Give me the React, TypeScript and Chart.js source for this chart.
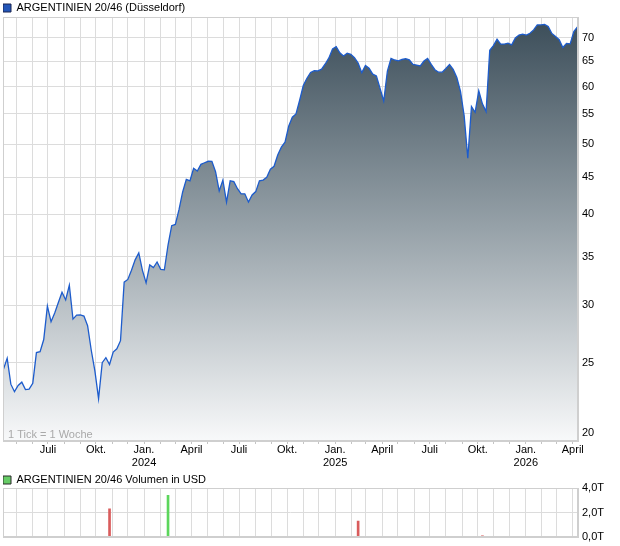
import React, { useEffect, useRef } from "react";
import { Chart, registerables } from "chart.js";

Chart.register(...registerables);

const FONT = '"Liberation Sans", Arial, Helvetica, sans-serif';
Chart.defaults.font.family = FONT;

// ---- data ----
const seriesTitle = "ARGENTINIEN 20/46 (Düsseldorf)";
const volumeTitle = "ARGENTINIEN 20/46 Volumen in USD";
const noteText = "1 Tick = 1 Woche";

const firstWeek = "2023-04-07"; // weekly closes
const axisStart = "2023-04-06";
const axisEnd = "2026-04-11";

const prices = [
  24.5, 25.35, 23.35, 22.8, 23.25, 23.5, 22.95, 22.98, 23.42, 25.81,
  25.89, 26.9, 29.9, 28.47, 29.27, 30.25, 31.25, 30.5, 31.95, 28.7,
  29.07, 29.08, 28.98, 28.1, 26.0, 24.33, 22.3, 25.0, 25.4, 24.85,
  25.85, 26.12, 26.8, 32.27, 32.55, 33.5, 34.63, 35.4, 33.5, 32.2,
  34.08, 33.8, 34.4, 33.6, 33.55, 36.3, 38.6, 38.75, 40.6, 42.95,
  44.7, 44.5, 46.3, 45.9, 46.88, 47.12, 47.34, 47.33, 45.8, 43.1,
  44.6, 41.6, 44.5, 44.38, 43.4, 42.7, 42.7, 41.6, 42.54, 43.0,
  44.5, 44.6, 45.0, 46.17, 46.6, 48.3, 49.5, 50.3, 52.9, 54.45,
  55.0, 57.45, 60.2, 61.6, 62.75, 63.1, 63.04, 63.4, 64.45, 65.7,
  67.6, 68.1, 66.78, 66.1, 66.7, 66.45, 65.75, 64.65, 62.7, 64.15,
  63.57, 62.4, 62.05, 59.65, 57.3, 63.0, 65.6, 65.27, 65.1, 65.37,
  65.55, 65.3, 64.38, 64.22, 64.05, 65.06, 65.6, 64.37, 63.29, 62.79,
  62.79, 63.54, 64.34, 63.34, 61.73, 59.1, 54.7, 47.8, 56.3, 55.3,
  59.2, 56.8, 55.41, 67.3, 68.31, 69.7, 68.64, 68.64, 68.85, 68.48,
  70.0, 70.63, 70.85, 70.64, 71.04, 71.8, 72.95, 72.95, 73.05, 72.6,
  71.0, 70.3, 69.6, 67.9, 68.8, 68.7, 71.4, 72.5,
];

const volumeDates = ["2023-10-27", "2024-02-16", "2025-02-14", "2025-10-10"];
const volumeValues = [2.3, 3.4, 1.3, 0.1]; // in T (thousand)
const volumeColors = ["#d95c5c", "#5cd65c", "#d95c5c", "#d95c5c"];

const priceTicks = [20, 25, 30, 35, 40, 45, 50, 55, 60, 65, 70];
const volumeTicks = [0, 2, 4];
const monthLabels = ["Jan.", "", "", "April", "", "", "Juli", "", "", "Okt.", "", ""];

// ---- helpers ----
const DAY = 86400000;
const toDay = (s: string) => Date.parse(s + "T00:00:00Z") / DAY;
const X_MIN = toDay(axisStart);
const X_MAX = toDay(axisEnd);

const monthTicks: number[] = [];
{
  const s = new Date(X_MIN * DAY);
  let y = s.getUTCFullYear();
  let m = s.getUTCMonth() + 1;
  while (Date.UTC(y, m, 1) / DAY <= X_MAX) {
    monthTicks.push(Date.UTC(y, m, 1) / DAY);
    m++;
    if (m > 11) { m = 0; y++; }
  }
}

const monthLabel = (v: number) => {
  const d = new Date(Math.round(v) * DAY);
  const m = d.getUTCMonth();
  const t = monthLabels[m];
  if (m === 0) return [t, String(d.getUTCFullYear())];
  return t;
};

const GRID = "#dcdcdc";
const FRAME = "#cfcfcf";

const framePlugin = {
  id: "frame",
  afterDraw(chart: any, _args: any, opts: any) {
    const { ctx, chartArea: a } = chart;
    ctx.save();
    ctx.strokeStyle = FRAME;
    ctx.lineWidth = 1;
    ctx.strokeRect(Math.round(a.left) + 0.5, Math.round(a.top) + 0.5, Math.round(a.right - a.left) - 1, Math.round(a.bottom - a.top) - 1);
    if (opts && opts.note) {
      ctx.fillStyle = "#a9a9a9";
      ctx.font = "11px " + FONT;
      ctx.textBaseline = "middle";
      ctx.textAlign = "left";
      ctx.fillText(opts.note, a.left + 5, a.bottom - 6);
    }
    ctx.restore();
  },
};

const startDay = toDay(firstWeek);

function mainConfig(): any {
  return {
    type: "line",
    data: {
      datasets: [
        {
          label: seriesTitle,
          data: prices.map((v, i) => ({ x: startDay + i * 7, y: v })),
          borderColor: "#1d5ccc",
          borderWidth: 1.3,
          pointRadius: 0,
          tension: 0,
          fill: "start",
          backgroundColor: (c: any) => {
            const ch = c.chart;
            const a = ch.chartArea;
            if (!a) return "rgba(0,0,0,0)";
            const g = ch.ctx.createLinearGradient(0, a.top, 0, a.bottom);
            g.addColorStop(0, "#3a4c58");
            g.addColorStop(0.5, "#97a2a9");
            g.addColorStop(1, "#f8f9fa");
            return g;
          },
        },
      ],
    },
    options: {
      animation: false,
      responsive: false,
      maintainAspectRatio: false,
      layout: { padding: { left: 3, top: 2.5, right: 0, bottom: 0 } },
      plugins: {
        tooltip: { enabled: false },
        frame: { note: noteText },
        legend: {
          display: true,
          position: "top",
          align: "start",
          maxHeight: 14.5,
          labels: {
            padding: 0,
            boxWidth: 8,
            boxHeight: 8,
            color: "#000",
            font: { family: FONT, size: 11 },
            generateLabels: () => [
              { text: seriesTitle, fillStyle: "#2356b8", strokeStyle: "#1a2550", lineWidth: 1, hidden: false, datasetIndex: 0 },
            ],
          },
        },
      },
      scales: {
        x: {
          type: "linear",
          min: X_MIN,
          max: X_MAX,
          afterBuildTicks: (s: any) => { s.ticks = monthTicks.map((v) => ({ value: v })); },
          afterFit: (s: any) => { s.height = 29; },
          ticks: {
            autoSkip: false,
            maxRotation: 0,
            minRotation: 0,
            padding: -1,
            color: "#000",
            font: { family: FONT, size: 11, lineHeight: 1.2 },
            callback: (v: number) => monthLabel(v),
          },
          grid: { color: GRID, drawTicks: true, tickLength: 3, tickColor: "#c4c4c4" },
          border: { color: FRAME },
        },
        y: {
          type: "logarithmic",
          position: "right",
          min: 19.5,
          max: 74.8,
          afterBuildTicks: (s: any) => { s.ticks = priceTicks.map((v) => ({ value: v })); },
          afterFit: (s: any) => { s.width = 42; },
          ticks: {
            padding: 4,
            color: "#000",
            font: { family: FONT, size: 11 },
            callback: (v: number) => String(v),
          },
          grid: { color: GRID, drawTicks: false },
          border: { color: FRAME },
        },
      },
    },
    plugins: [framePlugin],
  };
}

function volumeConfig(): any {
  return {
    type: "bar",
    data: {
      datasets: [
        {
          label: volumeTitle,
          data: volumeDates.map((d, i) => ({ x: toDay(d), y: volumeValues[i] })),
          backgroundColor: volumeColors,
          barThickness: 2,
          grouped: false,
        },
      ],
    },
    options: {
      animation: false,
      responsive: false,
      maintainAspectRatio: false,
      layout: { padding: { left: 3, top: 4.5, right: 0, bottom: 0 } },
      plugins: {
        tooltip: { enabled: false },
        frame: {},
        legend: {
          display: true,
          position: "top",
          align: "start",
          maxHeight: 13.5,
          labels: {
            padding: 0,
            boxWidth: 8,
            boxHeight: 8,
            color: "#000",
            font: { family: FONT, size: 11 },
            generateLabels: () => [
              { text: volumeTitle, fillStyle: "#66cc66", strokeStyle: "#2a2a2a", lineWidth: 1, hidden: false, datasetIndex: 0 },
            ],
          },
        },
      },
      scales: {
        x: {
          type: "linear",
          min: X_MIN,
          max: X_MAX,
          offset: false,
          afterBuildTicks: (s: any) => { s.ticks = monthTicks.map((v) => ({ value: v })); },
          afterFit: (s: any) => { s.height = 9; },
          ticks: { display: false },
          grid: { color: GRID, drawTicks: false, offset: false },
          border: { color: FRAME },
        },
        y: {
          type: "linear",
          position: "right",
          min: 0,
          max: 4,
          afterBuildTicks: (s: any) => { s.ticks = volumeTicks.map((v) => ({ value: v })); },
          afterFit: (s: any) => {
            s.width = 42;
            s.paddingTop = 0;
            s.paddingBottom = 0;
          },
          ticks: {
            padding: 4,
            color: "#000",
            font: { family: FONT, size: 11 },
            callback: (v: number) => v.toFixed(1).replace(".", ",") + "T",
          },
          grid: { color: GRID, drawTicks: false },
          border: { color: FRAME },
        },
      },
    },
    plugins: [framePlugin],
  };
}

export default function App() {
  const mainRef = useRef<HTMLCanvasElement>(null);
  const volRef = useRef<HTMLCanvasElement>(null);

  useEffect(() => {
    const c1 = new Chart(mainRef.current as HTMLCanvasElement, mainConfig());
    const c2 = new Chart(volRef.current as HTMLCanvasElement, volumeConfig());
    return () => {
      c1.destroy();
      c2.destroy();
    };
  }, []);

  return (
    <div style={{ position: "fixed", left: 0, top: 0, width: 620, height: 546, background: "#fff" }}>
      <canvas ref={mainRef} width={620} height={470} style={{ position: "absolute", left: 0, top: 0, width: 620, height: 470 }} />
      <canvas ref={volRef} width={620} height={76} style={{ position: "absolute", left: 0, top: 470, width: 620, height: 76 }} />
    </div>
  );
}
